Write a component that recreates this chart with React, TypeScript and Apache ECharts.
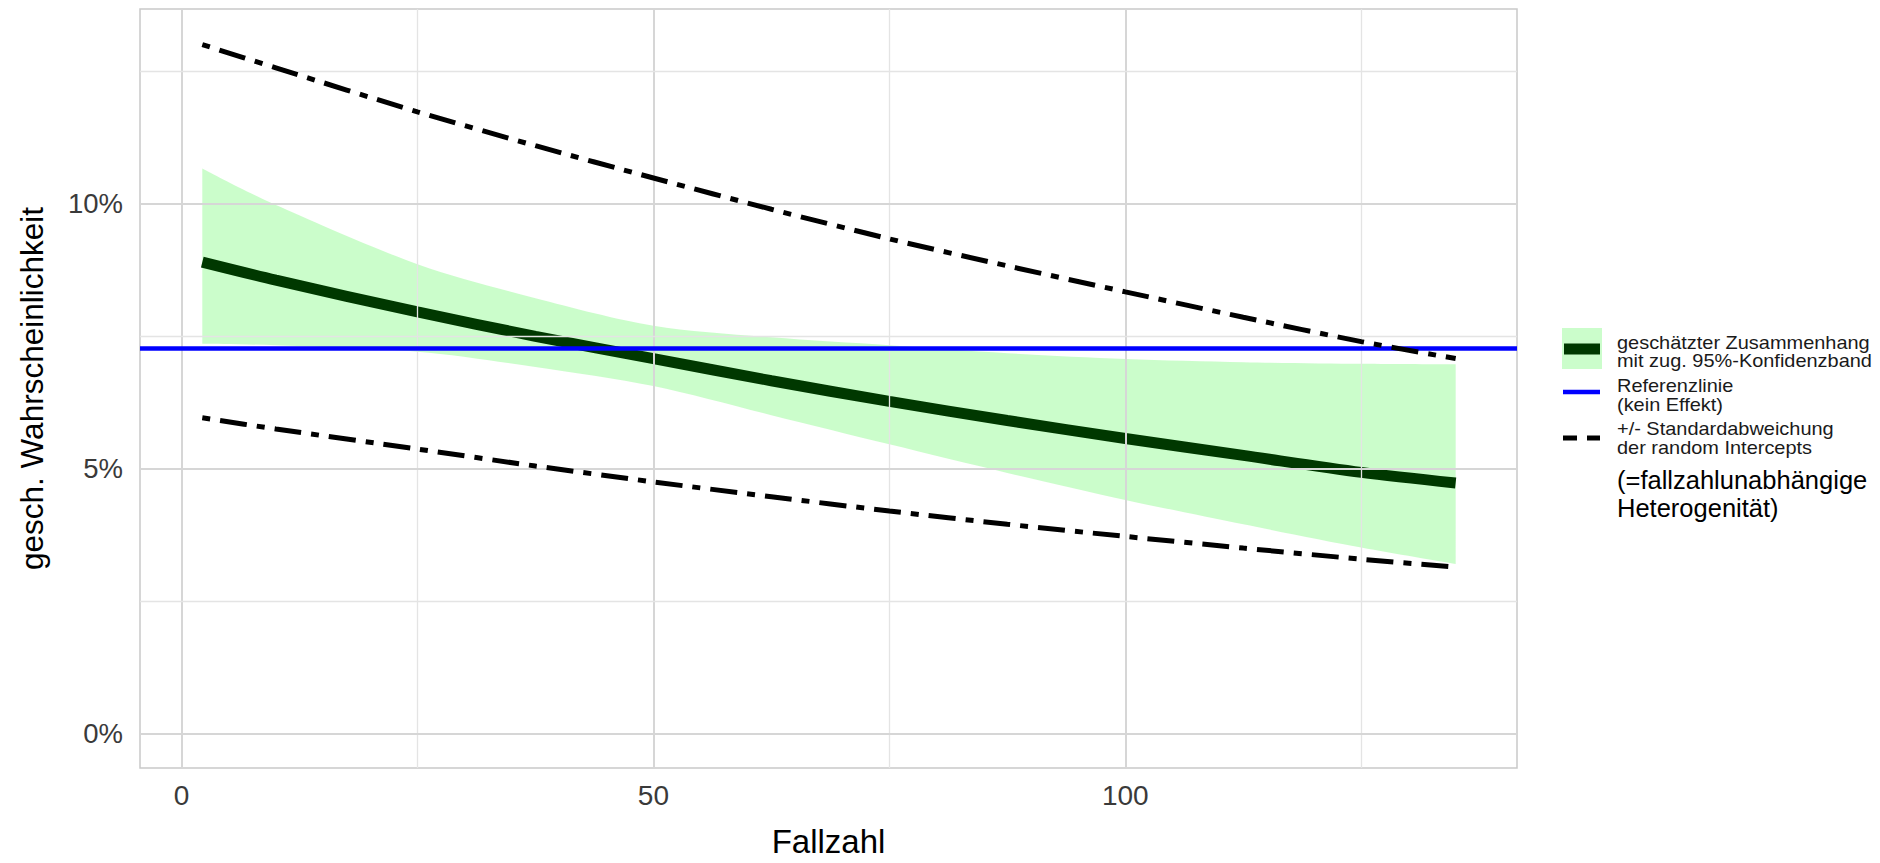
import React, { useEffect, useRef } from "react";
import * as echarts from "echarts";

// ---- data (values in percent) ----
const fallzahl = [2.2, 10, 25, 37.5, 50, 62.5, 75, 87.5, 100, 112.5, 125, 135];
const fitted = [8.9, 8.56, 7.96, 7.5, 7.08, 6.66, 6.27, 5.91, 5.57, 5.25, 4.93, 4.73];
const ciLower = [7.36, 7.33, 7.21, 6.92, 6.56, 6.01, 5.46, 4.92, 4.41, 3.95, 3.51, 3.2];
const ciUpper = [10.67, 9.98, 8.86, 8.22, 7.7, 7.48, 7.33, 7.18, 7.07, 7.01, 6.98, 6.97];
const sdUpper = [13.01, 12.57, 11.74, 11.1, 10.49, 9.9, 9.34, 8.83, 8.34, 7.86, 7.4, 7.08];
const sdLower = [5.96, 5.75, 5.37, 5.05, 4.75, 4.47, 4.2, 3.95, 3.72, 3.5, 3.29, 3.14];
const referenceValue = 7.28;

const xTickLabels = [0, 50, 100];
const yTickLabels = [0, 5, 10];
const xMajorGrid = [0, 50, 100];
const xMinorGrid = [25, 75, 125];
const yMajorGrid = [0, 5, 10];
const yMinorGrid = [2.5, 7.5, 12.5];

const legendTexts = [
  "geschätzter Zusammenhang",
  "mit zug. 95%-Konfidenzband",
  "Referenzlinie",
  "(kein Effekt)",
  "+/- Standardabweichung",
  "der random Intercepts",
];
const legendNote = ["(=fallzahlunabhängige", "Heterogenität)"];

const FONT = "'Liberation Sans', Arial, Helvetica, sans-serif";
const BAND_FILL = "rgba(152,251,152,0.5)";
const DARK_GREEN = "#003800";
const DOTDASH = [8, 10, 27, 10];

// smooth ribbon shape: upper edge and lower edge drawn as Catmull-Rom curves
function curveThrough(ctx: any, pts: number[][], t: number) {
  const n = pts.length;
  for (let i = 0; i < n - 1; i++) {
    const p0 = pts[Math.max(0, i - 1)];
    const p1 = pts[i];
    const p2 = pts[i + 1];
    const p3 = pts[Math.min(n - 1, i + 2)];
    const c1x = p1[0] + ((p2[0] - p0[0]) / 6) * t;
    const c1y = p1[1] + ((p2[1] - p0[1]) / 6) * t;
    const c2x = p2[0] - ((p3[0] - p1[0]) / 6) * t;
    const c2y = p2[1] - ((p3[1] - p1[1]) / 6) * t;
    ctx.bezierCurveTo(c1x, c1y, c2x, c2y, p2[0], p2[1]);
  }
}

let registered = false;
function registerRibbon() {
  if (registered) return;
  registered = true;
  const Ribbon = (echarts.graphic as any).extendShape({
    shape: { up: [] as number[][], lo: [] as number[][] },
    buildPath(ctx: any, shape: any) {
      const up = shape.up;
      const lo = shape.lo;
      if (!up.length) return;
      ctx.moveTo(up[0][0], up[0][1]);
      curveThrough(ctx, up, 0.9);
      ctx.lineTo(lo[0][0], lo[0][1]);
      curveThrough(ctx, lo, 0.9);
      ctx.closePath();
    },
  });
  (echarts.graphic as any).registerShape("ciRibbon", Ribbon);
}

export default function App() {
  const ref = useRef<HTMLDivElement>(null);

  useEffect(() => {
    if (!ref.current) return;
    registerRibbon();
    const chart = echarts.init(ref.current, null, { renderer: "svg" });

    const majorGrid = { color: "#d6d6d6", width: 2, type: "solid" };
    const minorGrid = { color: "#e4e4e4", width: 1.3, type: "solid" };
    const gridMarks: any[] = [
      ...xMajorGrid.map((v) => ({ xAxis: v, lineStyle: majorGrid })),
      ...xMinorGrid.map((v) => ({ xAxis: v, lineStyle: minorGrid })),
      ...yMajorGrid.map((v) => ({ yAxis: v, lineStyle: majorGrid })),
      ...yMinorGrid.map((v) => ({ yAxis: v, lineStyle: minorGrid })),
    ];

    const legendX = 1617;
    const legendYs = [342, 360, 385, 404, 428, 447];
    const graphic: any[] = [
      { type: "rect", shape: { x: 1562, y: 328, width: 40, height: 41 }, style: { fill: BAND_FILL } },
      { type: "line", shape: { x1: 1564, y1: 349, x2: 1600, y2: 349 }, style: { stroke: DARK_GREEN, lineWidth: 11 } },
      { type: "line", shape: { x1: 1563, y1: 392, x2: 1600, y2: 392 }, style: { stroke: "#0000ff", lineWidth: 4.5 } },
      {
        type: "line",
        shape: { x1: 1563, y1: 438, x2: 1600, y2: 438 },
        style: { stroke: "#000", lineWidth: 5, lineDash: [14, 10] },
      },
      ...legendTexts.map((t, i) => ({
        type: "text",
        x: legendX,
        y: legendYs[i],
        scaleX: 1.05,
        style: { text: t, fontSize: 19, fontFamily: FONT, fill: "#1a1a1a", verticalAlign: "middle", align: "left" },
      })),
      ...legendNote.map((t, i) => ({
        type: "text",
        x: legendX,
        y: [480, 508][i],
        style: { text: t, fontSize: 25.5, fontFamily: FONT, fill: "#000", verticalAlign: "middle", align: "left" },
      })),
    ];

    const lineBase = { type: "line", showSymbol: false, smooth: 0.3 };

    chart.setOption({
      animation: false,
      backgroundColor: "#ffffff",
      textStyle: { fontFamily: FONT },
      grid: {
        left: 140,
        top: 9,
        right: 363,
        bottom: 87,
        show: true,
        borderColor: "#c9c9c9",
        borderWidth: 1.5,
        backgroundColor: "#ffffff",
        containLabel: false,
      },
      xAxis: {
        type: "value",
        min: -4.4,
        max: 141.5,
        axisLine: { show: false },
        axisTick: { show: false },
        splitLine: { show: false },
        axisLabel: {
          customValues: xTickLabels,
          fontSize: 28,
          color: "#3a3a3a",
          margin: 13,
          fontFamily: FONT,
        },
        name: "Fallzahl",
        nameLocation: "middle",
        nameGap: 57,
        nameTextStyle: { fontSize: 33, color: "#000", fontFamily: FONT },
      },
      yAxis: {
        type: "value",
        min: -0.654,
        max: 13.682,
        axisLine: { show: false },
        axisTick: { show: false },
        splitLine: { show: false },
        axisLabel: {
          customValues: yTickLabels,
          formatter: (v: number) => `${v}%`,
          fontSize: 27.5,
          color: "#3a3a3a",
          margin: 17,
          fontFamily: FONT,
        },
        name: "gesch. Wahrscheinlichkeit",
        nameLocation: "middle",
        nameGap: 92,
        nameTextStyle: { fontSize: 31.5, color: "#000", fontFamily: FONT },
      },
      series: [
        {
          name: "grid",
          type: "line",
          z: 1,
          data: [[fallzahl[0], fitted[0]]],
          showSymbol: false,
          lineStyle: { opacity: 0 },
          silent: true,
          markLine: {
            silent: true,
            symbol: ["none", "none"],
            label: { show: false },
            data: gridMarks,
          },
        },
        {
          name: "Konfidenzband",
          type: "custom",
          z: 2,
          silent: true,
          data: fallzahl.map((x, i) => [x, ciLower[i], ciUpper[i]]),
          encode: { x: 0, y: [1, 2] },
          renderItem: (params: any, api: any) => {
            if (params.dataIndex !== 0) return { type: "group", children: [] };
            const up = fallzahl.map((x, i) => api.coord([x, ciUpper[i]]));
            const lo = fallzahl.map((x, i) => api.coord([x, ciLower[i]])).reverse();
            return {
              type: "ciRibbon",
              shape: { up, lo },
              style: { fill: BAND_FILL, stroke: "none" },
            };
          },
        },
        {
          name: "Referenzlinie",
          type: "line",
          z: 3,
          data: [[fallzahl[0], referenceValue]],
          showSymbol: false,
          lineStyle: { opacity: 0 },
          markLine: {
            silent: true,
            symbol: ["none", "none"],
            label: { show: false },
            lineStyle: { color: "#0000ff", width: 4.5, type: "solid" },
            data: [{ yAxis: referenceValue }],
          },
        },
        {
          ...lineBase,
          name: "geschätzter Zusammenhang",
          z: 4,
          data: fallzahl.map((x, i) => [x, fitted[i]]),
          lineStyle: { color: DARK_GREEN, width: 11, cap: "butt" },
        },
        {
          ...lineBase,
          name: "SD oben",
          z: 5,
          data: fallzahl.map((x, i) => [x, sdUpper[i]]),
          lineStyle: { color: "#000", width: 5, type: DOTDASH, cap: "butt" },
        },
        {
          ...lineBase,
          name: "SD unten",
          z: 5,
          data: fallzahl.map((x, i) => [x, sdLower[i]]),
          lineStyle: { color: "#000", width: 5, type: DOTDASH, cap: "butt" },
        },
      ],
      graphic,
    });

    return () => chart.dispose();
  }, []);

  return (
    <div
      ref={ref}
      style={{ position: "absolute", left: 0, top: 0, width: 1880, height: 863, background: "#fff" }}
    />
  );
}
